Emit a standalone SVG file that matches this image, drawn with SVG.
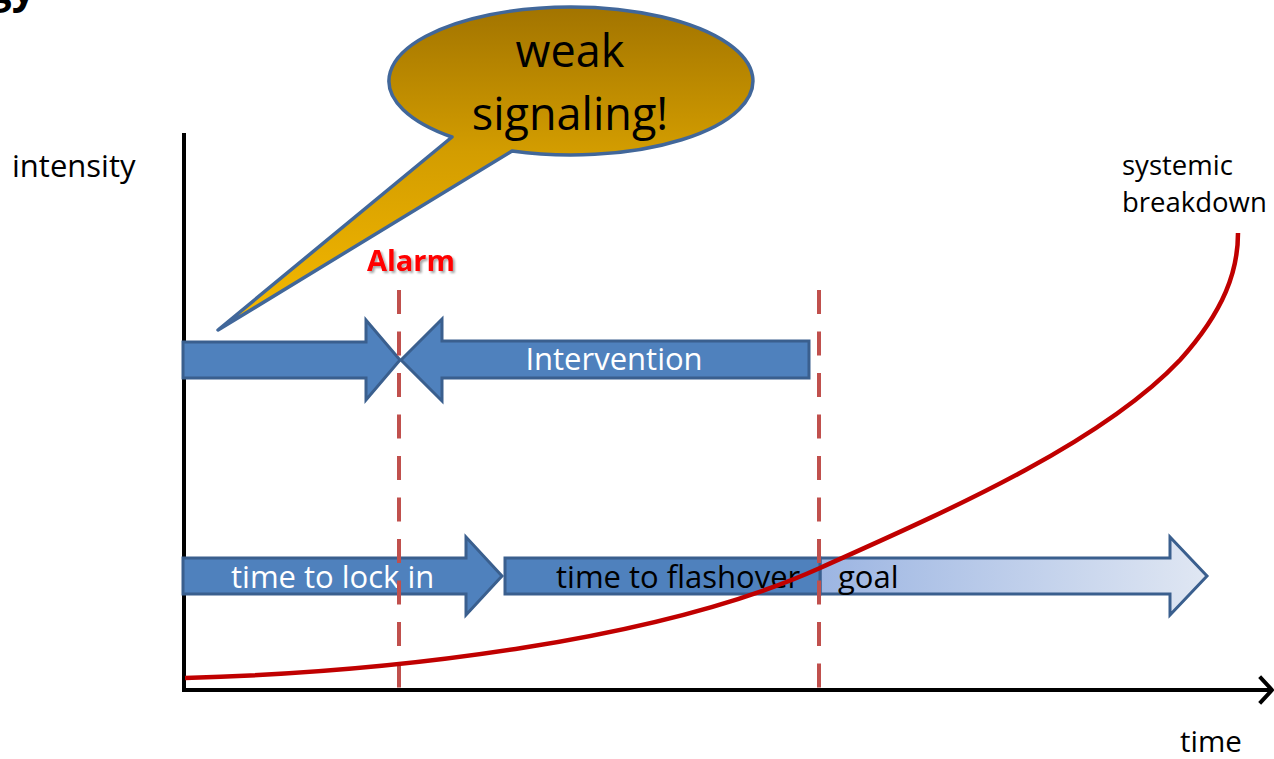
<svg xmlns="http://www.w3.org/2000/svg" width="1274" height="759" viewBox="0 0 1274 759">
  <defs>
    <linearGradient id="bubbleFill" gradientUnits="userSpaceOnUse" x1="0" y1="7" x2="0" y2="330">
      <stop offset="0" stop-color="#A27400"/>
      <stop offset="0.45" stop-color="#D39D00"/>
      <stop offset="1" stop-color="#F7BA00"/>
    </linearGradient>
    <linearGradient id="goalFill" gradientUnits="userSpaceOnUse" x1="820" y1="0" x2="1207" y2="0">
      <stop offset="0" stop-color="#9CB5E2"/>
      <stop offset="1" stop-color="#E0E7F3"/>
    </linearGradient>
    <filter id="softShadow" x="-20%" y="-30%" width="140%" height="160%">
      <feDropShadow dx="2" dy="2" stdDeviation="1.2" flood-color="#000" flood-opacity="0.35"/>
    </filter>
  </defs>
  <style>
    .txt { font-family: "Open Sans", "Liberation Sans", sans-serif; }
    .axis { stroke: #000; stroke-width: 4; fill: none; stroke-linecap: square; }
    .arrow { fill: #4F81BD; stroke: #3A5F8E; stroke-width: 3; stroke-linejoin: miter; }
    .marker { stroke: #C0504D; stroke-width: 4; stroke-dasharray: 24 17.5; fill: none; }
    .curve { stroke: #C00000; stroke-width: 4.5; fill: none; stroke-linecap: butt; }
    .lbl { font-size: 31px; }
  </style>

  <rect width="1274" height="759" fill="#fff"/>

  <!-- cut-off heading fragment -->
  <text class="txt" x="-12" y="3" font-size="42" font-weight="bold" fill="#000">gy</text>

  <!-- axes -->
  <g id="axes">
    <line class="axis" x1="184" y1="135" x2="184" y2="690"/>
    <line class="axis" x1="184" y1="690" x2="1270" y2="690"/>
    <polyline class="axis" points="1261,678 1272,690 1261,702" stroke-linecap="round" stroke-linejoin="round"/>
    <text class="txt" x="12" y="177" font-size="31" fill="#000">intensity</text>
    <text class="txt" x="1180" y="752" font-size="29.5" fill="#000">time</text>
  </g>

  <!-- speech bubble -->
  <g id="weak-signaling">
    <path d="M452,137 L218,330 L512,151 A182,74 0 1 0 452,137 Z" fill="url(#bubbleFill)" stroke="#41679A" stroke-width="3.5" stroke-linejoin="round"/>
    <text class="txt" x="570" y="67" font-size="45" text-anchor="middle" fill="#000">weak</text>
    <text class="txt" x="570" y="130" font-size="45" text-anchor="middle" fill="#000">signaling!</text>
  </g>

  <!-- upper row: run-up and intervention -->
  <g id="run-up">
    <path class="arrow" d="M183,342 L366,342 L366,320 L400,360 L366,400 L366,378 L183,378 Z"/>
  </g>
  <g id="intervention">
    <path class="arrow" d="M401,360 L442,319 L442,341 L809,341 L809,378 L442,378 L442,401 Z"/>
    <text class="txt lbl" x="614" y="370" text-anchor="middle" fill="#fff">Intervention</text>
  </g>

  <!-- lower row: lock-in, flashover, goal -->
  <g id="lock-in">
    <path class="arrow" d="M183,558 L466,558 L466,537 L502,576 L466,615 L466,594 L183,594 Z"/>
    <text class="txt lbl" x="231" y="588" fill="#fff">time to lock in</text>
  </g>
  <g id="goal">
    <path class="arrow" d="M820,558 L1170,558 L1170,537 L1207,576 L1170,615 L1170,594 L820,594 Z" style="fill:url(#goalFill)"/>
    <text class="txt lbl" x="838" y="588" fill="#000">goal</text>
  </g>
  <g id="flashover">
    <rect class="arrow" x="505" y="558" width="315" height="36"/>
    <text class="txt lbl" x="556" y="588" fill="#000">time to flashover</text>
  </g>

  <!-- alarm marker, end-of-intervention marker and the escalation curve -->
  <g id="connectors">
    <line class="marker" x1="399" y1="290" x2="399" y2="690"/>
    <line class="marker" x1="819" y1="290" x2="819" y2="690"/>
    <path class="curve" d="M185,678 C400,672 660,640 820,568 C940,514 1100,445 1180,360 C1225,310 1238,270 1238,233"/>
  </g>

  <g id="alarm">
    <text class="txt" x="367" y="271" font-size="29" font-weight="bold" fill="#FF0000" filter="url(#softShadow)">Alarm</text>
  </g>

  <g id="systemic-breakdown">
    <text class="txt" x="1122" y="175" font-size="27.5" fill="#000">systemic</text>
    <text class="txt" x="1122" y="212" font-size="27.5" fill="#000">breakdown</text>
  </g>
</svg>
